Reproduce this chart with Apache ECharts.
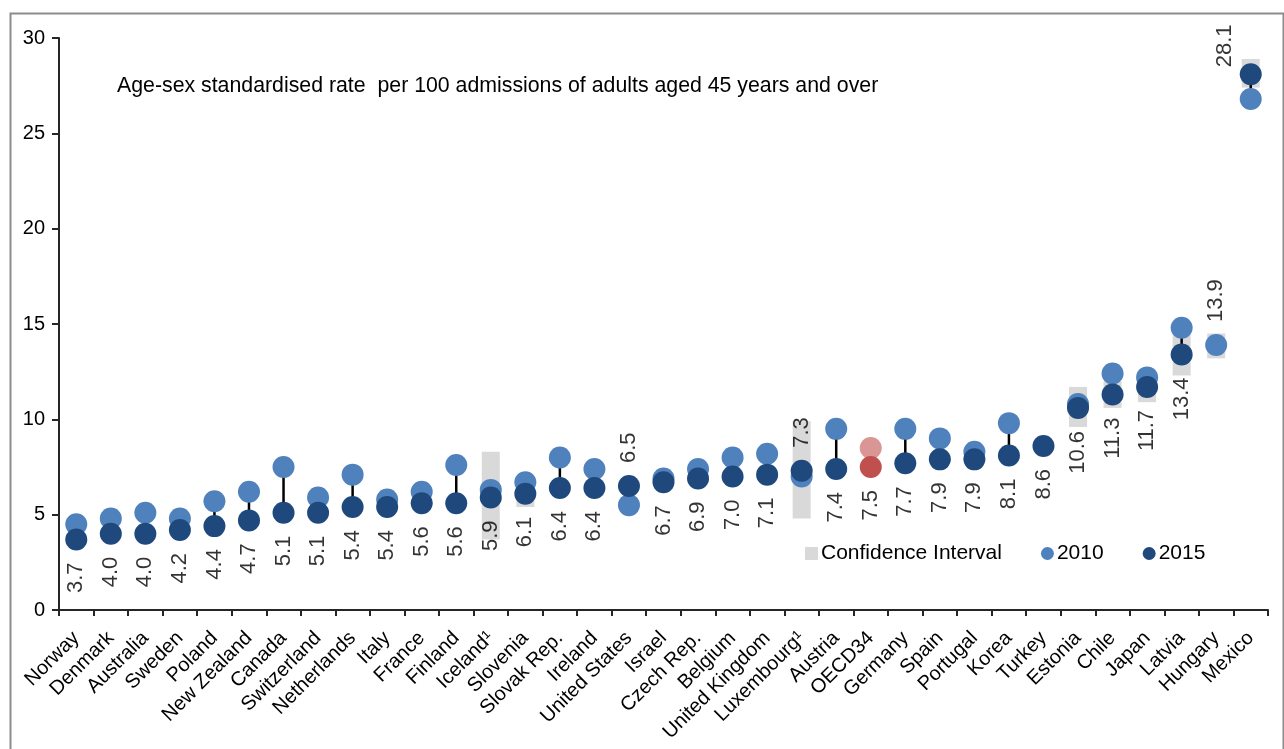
<!DOCTYPE html>
<html>
<head>
<meta charset="utf-8">
<script src="https://cdn.jsdelivr.net/npm/echarts@6/dist/echarts.min.js"></script>
<style>
  html, body { margin: 0; padding: 0; background: #fff; }
  #main { width: 1284px; height: 749px; }
</style>
</head>
<body>
<div id="main"></div>
<script>
// data
var countries = ['Norway', 'Denmark', 'Australia', 'Sweden', 'Poland', 'New Zealand', 'Canada', 'Switzerland',
  'Netherlands', 'Italy', 'France', 'Finland', 'Iceland¹', 'Slovenia', 'Slovak Rep.', 'Ireland', 'United States',
  'Israel', 'Czech Rep.', 'Belgium', 'United Kingdom', 'Luxembourg¹', 'Austria', 'OECD34', 'Germany', 'Spain',
  'Portugal', 'Korea', 'Turkey', 'Estonia', 'Chile', 'Japan', 'Latvia', 'Hungary', 'Mexico'];

var rate2010 = [4.5, 4.8, 5.1, 4.8, 5.7, 6.2, 7.5, 5.9, 7.1, 5.8, 6.2, 7.6, 6.3, 6.7, 8.0, 7.4, 5.5,
  6.9, 7.4, 8.0, 8.2, 7.0, 9.5, 8.5, 9.5, 9.0, 8.3, 9.8, null, 10.8, 12.4, 12.2, 14.8, 13.9, 26.8];

var rate2015 = [3.7, 4.0, 4.0, 4.2, 4.4, 4.7, 5.1, 5.1, 5.4, 5.4, 5.6, 5.6, 5.9, 6.1, 6.4, 6.4, 6.5,
  6.7, 6.9, 7.0, 7.1, 7.3, 7.4, 7.5, 7.7, 7.9, 7.9, 8.1, 8.6, 10.6, 11.3, 11.7, 13.4, null, 28.1];

// value printed next to each country
var labelValues = [3.7, 4.0, 4.0, 4.2, 4.4, 4.7, 5.1, 5.1, 5.4, 5.4, 5.6, 5.6, 5.9, 6.1, 6.4, 6.4, 6.5,
  6.7, 6.9, 7.0, 7.1, 7.3, 7.4, 7.5, 7.7, 7.9, 7.9, 8.1, 8.6, 10.6, 11.3, 11.7, 13.4, 13.9, 28.1];

// 95% confidence interval (2015), only where it shows
var ciLow = [null, null, null, null, null, null, null, null, null, null, null, null, 3.7, 5.4, null, 6.0, null,
  null, null, null, null, 4.8, null, null, null, null, null, null, null, 9.6, 10.6, 10.9, 12.3, 13.2, 27.4];
var ciHigh = [null, null, null, null, null, null, null, null, null, null, null, null, 8.3, 6.8, null, 6.8, null,
  null, null, null, null, 9.9, null, null, null, null, null, null, null, 11.7, 12.0, 12.5, 14.5, 14.5, 28.9];

var yTicks = [0, 5, 10, 15, 20, 25, 30];
var highlight = 'OECD34';

var C2010 = '#4F81BD', C2015 = '#1F497D', CI = '#D9D9D9';
var FONT = '"Liberation Sans", Arial, sans-serif';
var yMax = yTicks[yTicks.length - 1];

var myChart = echarts.init(document.getElementById('main'));

var ciData = [], linkData = [], d2010 = [], d2015 = [], dLabels = [];
countries.forEach(function (c, i) {
  if (ciLow[i] != null) ciData.push([i, ciLow[i], ciHigh[i]]);
  if (rate2010[i] != null && rate2015[i] != null) linkData.push([i, rate2010[i], rate2015[i]]);
  var hl = c === highlight;
  d2010.push(hl ? { value: rate2010[i], itemStyle: { color: '#DA9694' } } : rate2010[i]);
  d2015.push(hl ? { value: rate2015[i], itemStyle: { color: '#C0504D' } } : rate2015[i]);
  // label goes above when the 2010 point sits below (or 2015 is missing)
  var above = rate2015[i] == null || (rate2010[i] != null && rate2010[i] < rate2015[i]);
  var nearTop = labelValues[i] > yMax * 0.9; // no room above: set it beside the dot
  var lbl;
  if (!above) lbl = { position: 'bottom', align: 'right' };
  else if (nearTop) lbl = { position: 'top', align: 'left', distance: -4, offset: [0, -26] }; // offset is in rotated frame
  else lbl = { position: 'top', align: 'left' };
  dLabels.push({ value: labelValues[i], label: lbl });
});

var option = {
  animation: false,
  textStyle: { fontFamily: FONT },
  graphic: [
    { type: 'rect', left: 8, top: 11, shape: { width: 1273, height: 745 },
      style: { fill: 'none', stroke: '#8c8c8c', lineWidth: 2 }, silent: true },
    { type: 'text', left: 117, top: 76,
      style: { text: 'Age-sex standardised rate  per 100 admissions of adults aged 45 years and over',
        font: '21.3px ' + FONT, fill: '#000' } }
  ],
  legend: {
    left: 800, top: 538,
    itemWidth: 13, itemHeight: 13, itemGap: 39,
    textStyle: { fontSize: 21, color: '#000', fontFamily: FONT, padding: [0, 0, 0, -2] },
    data: [
      { name: 'Confidence Interval', icon: 'rect' },
      { name: '2010', icon: 'circle' },
      { name: '2015', icon: 'circle' }
    ]
  },
  grid: { left: 59, right: 16, top: 38, bottom: 139 },
  xAxis: {
    type: 'category',
    data: countries,
    boundaryGap: true,
    axisLine: { lineStyle: { color: '#262626', width: 2 } },
    axisTick: { show: true, interval: 0, length: 6, lineStyle: { color: '#262626', width: 2 } },
    axisLabel: { interval: 0, rotate: 45, fontSize: 20, color: '#000', margin: 25, fontFamily: FONT },
    splitLine: { show: false }
  },
  yAxis: {
    type: 'value',
    min: yTicks[0], max: yMax, interval: yTicks[1] - yTicks[0],
    axisLine: { show: true, lineStyle: { color: '#262626', width: 2 } },
    axisTick: { show: true, length: 7, lineStyle: { color: '#262626', width: 2 } },
    axisLabel: { fontSize: 20, color: '#000', margin: 14, fontFamily: FONT },
    splitLine: { show: false }
  },
  series: [
    {
      name: 'Confidence Interval',
      type: 'custom',
      z: 1,
      itemStyle: { color: CI },
      encode: { x: 0, y: [1, 2] },
      data: ciData,
      renderItem: function (params, api) {
        var lo = api.coord([api.value(0), api.value(1)]);
        var hi = api.coord([api.value(0), api.value(2)]);
        return { type: 'rect', shape: { x: lo[0] - 9, y: hi[1], width: 18, height: lo[1] - hi[1] },
          style: { fill: CI } };
      }
    },
    {
      name: 'link',
      type: 'custom',
      z: 2,
      silent: true,
      encode: { x: 0, y: [1, 2] },
      data: linkData,
      renderItem: function (params, api) {
        var a = api.coord([api.value(0), api.value(1)]);
        var b = api.coord([api.value(0), api.value(2)]);
        return { type: 'line', shape: { x1: a[0], y1: a[1], x2: b[0], y2: b[1] },
          style: { stroke: '#000', lineWidth: 2.5 } };
      }
    },
    {
      name: '2010', type: 'scatter', z: 3, symbolSize: 22,
      itemStyle: { color: C2010, opacity: 1 },
      data: d2010
    },
    {
      name: '2015', type: 'scatter', z: 4, symbolSize: 22,
      itemStyle: { color: C2015, opacity: 1 },
      data: d2015
    },
    {
      name: 'labels', type: 'scatter', z: 5, symbolSize: 22, silent: true,
      itemStyle: { color: 'rgba(0,0,0,0)' },
      label: {
        show: true, rotate: 90, distance: 12, verticalAlign: 'middle',
        fontSize: 22, color: '#000', fontFamily: FONT,
        formatter: function (p) { return p.value.toFixed(1); }
      },
      data: dLabels
    }
  ]
};
myChart.setOption(option);
</script>
</body>
</html>
